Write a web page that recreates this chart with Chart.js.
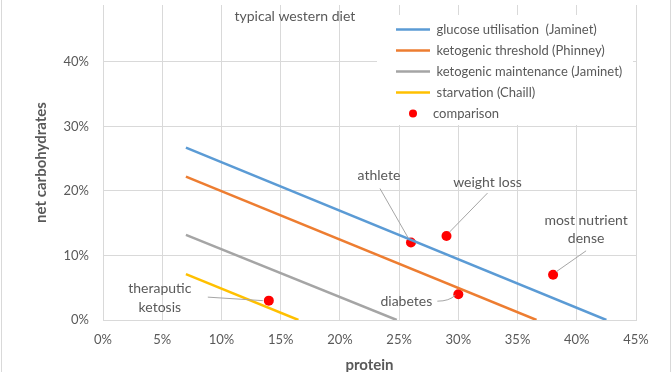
<!DOCTYPE html>
<html>
<head>
<meta charset="utf-8">
<script src="https://cdn.jsdelivr.net/npm/chart.js@4/dist/chart.umd.min.js"></script>
<style>
html,body{margin:0;padding:0;background:#fff;}
#wrap{width:672px;height:372px;position:relative;}
</style>
</head>
<body>
<div id="wrap"><canvas id="c" width="672" height="372"></canvas></div>
<script>
// ---- data ----
const lineNames = ['glucose utilisation  (Jaminet)', 'ketogenic threshold (Phinney)', 'ketogenic maintenance (Jaminet)', 'starvation (Chaill)'];
const lineStartProtein = [0.07, 0.07, 0.07, 0.07];
const lineStartCarbs   = [0.267, 0.222, 0.132, 0.071];
const lineEndProtein   = [0.425, 0.366, 0.248, 0.165];
const lineEndCarbs     = [0, 0, 0, 0];
const pointSeriesName = 'comparison';
const pointLabels  = ['theraputic\nketosis', 'athlete', 'weight loss', 'most nutrient\ndense', 'diabetes'];
const pointProtein = [0.14, 0.26, 0.29, 0.38, 0.30];
const pointCarbs   = [0.03, 0.12, 0.13, 0.07, 0.04];
const noteText = 'typical western diet';
const noteProtein = 0.162;
const noteCarbs = 0.47;
const xTicks = [0, 0.05, 0.10, 0.15, 0.20, 0.25, 0.30, 0.35, 0.40, 0.45];
const yTicks = [0, 0.10, 0.20, 0.30, 0.40];
const xTitle = 'protein';
const yTitle = 'net carbohydrates';

// ---- styles ----
const lineColors = ['#5B9BD5', '#ED7D31', '#A5A5A5', '#FFC000'];
const textColor = '#595959';
const gridColor = '#d9d9d9';
const FONT = 'Lato, "Liberation Sans", sans-serif';

const datasets = lineNames.map((n, i) => ({
  label: n,
  data: [{x: lineStartProtein[i], y: lineStartCarbs[i]}, {x: lineEndProtein[i], y: lineEndCarbs[i]}],
  showLine: true,
  borderColor: lineColors[i],
  backgroundColor: lineColors[i],
  borderWidth: 2.5,
  pointRadius: 0,
  pointHoverRadius: 0,
  fill: false
}));
datasets.push({
  label: pointSeriesName,
  data: pointProtein.map((p, i) => ({x: p, y: pointCarbs[i]})),
  showLine: false,
  pointRadius: 5,
  pointBackgroundColor: '#FF0000',
  pointBorderColor: '#FF0000',
  pointBorderWidth: 0,
  backgroundColor: '#FF0000',
  borderColor: '#FF0000'
});

// label placement (pixel offsets from each point): text centre, leader start, leader end
const labelLayout = [
  {tx: -109, ty: [-12, 7], l0: [-61, -3.5], l1: [-6, 0]},
  {tx: -32, ty: [-67], l0: [-31, -54], l1: [-3, -5]},
  {tx: 41, ty: [-54], l0: [41, -43], l1: [3, -4]},
  {tx: 33, ty: [-54, -36], l0: [33, -24], l1: [3, -3]},
  {tx: -52, ty: [7], l0: [-21, 7], l1: [-3, 1], curve: true}
];

const decor = {
  id: 'decor',
  beforeDraw(chart) {
    const ctx = chart.ctx;
    ctx.save();
    ctx.fillStyle = '#fff';
    ctx.fillRect(0, 0, chart.width, chart.height);
    ctx.strokeStyle = gridColor;
    ctx.lineWidth = 1;
    ctx.beginPath();
    ctx.moveTo(1.5, 0); ctx.lineTo(1.5, chart.height);
    ctx.moveTo(670.5, 0); ctx.lineTo(670.5, chart.height);
    ctx.stroke();
    ctx.restore();
  },
  afterDatasetsDraw(chart) {
    const ctx = chart.ctx;
    const xs = chart.scales.x, ys = chart.scales.y;
    ctx.save();
    // legend box
    ctx.fillStyle = '#fff';
    ctx.fillRect(377, 15, 256, 110);
    ctx.font = '13px ' + FONT;
    ctx.fillStyle = textColor;
    ctx.textBaseline = 'middle';
    ctx.textAlign = 'left';
    const ds = chart.data.datasets;
    ds.forEach((d, i) => {
      const y = 29.5 + i * 21;
      if (d.showLine) {
        ctx.strokeStyle = d.borderColor;
        ctx.lineWidth = 2.5;
        ctx.beginPath();
        ctx.moveTo(396, y); ctx.lineTo(430, y);
        ctx.stroke();
        ctx.fillStyle = textColor;
        ctx.fillText(d.label, 436.5, y);
      } else {
        ctx.fillStyle = d.pointBackgroundColor;
        ctx.beginPath();
        ctx.arc(413, y, 4, 0, Math.PI * 2);
        ctx.fill();
        ctx.fillStyle = textColor;
        ctx.fillText(d.label, 433, y);
      }
    });
    // data labels with leader lines
    const meta = chart.getDatasetMeta(ds.length - 1);
    ctx.font = '14px ' + FONT;
    ctx.strokeStyle = '#a6a6a6';
    ctx.lineWidth = 1;
    ctx.textAlign = 'center';
    pointLabels.forEach((lab, i) => {
      const el = meta.data[i];
      const px = el.x, py = el.y;
      const L = labelLayout[i];
      ctx.beginPath();
      ctx.moveTo(px + L.l0[0], py + L.l0[1]);
      if (L.curve) {
        ctx.quadraticCurveTo(px + L.l1[0] - 6, py + L.l0[1], px + L.l1[0], py + L.l1[1]);
      } else {
        ctx.lineTo(px + L.l1[0], py + L.l1[1]);
      }
      ctx.stroke();
      ctx.fillStyle = textColor;
      lab.split('\n').forEach((t, k) => ctx.fillText(t, px + L.tx, py + L.ty[k]));
    });
    ctx.fillText(noteText, xs.getPixelForValue(noteProtein), ys.getPixelForValue(noteCarbs));
    ctx.restore();
  }
};

new Chart(document.getElementById('c'), {
  type: 'scatter',
  data: {datasets},
  options: {
    responsive: false,
    animation: false,
    events: [],
    layout: {padding: {left: 0, top: 0, right: 36, bottom: 0}},
    plugins: {legend: {display: false}, tooltip: {enabled: false}},
    scales: {
      x: {
        type: 'linear', min: 0, max: 0.45,
        afterBuildTicks(s) { s.ticks = xTicks.map(v => ({value: v})); },
        afterFit(s) { s.height = 52; s.paddingLeft = 0; s.paddingRight = 0; },
        ticks: {
          color: textColor, font: {family: FONT, size: 13}, padding: 12,
          callback: v => Math.round(v * 100) + '%'
        },
        grid: {color: gridColor, drawTicks: false},
        border: {color: gridColor},
        title: {display: true, text: xTitle, color: textColor, font: {family: FONT, size: 15, weight: 'bold'}, padding: {top: 0, bottom: -2}}
      },
      y: {
        type: 'linear', min: 0, max: 0.488,
        afterBuildTicks(s) { s.ticks = yTicks.map(v => ({value: v})); },
        afterFit(s) { s.width = 103; s.paddingTop = 0; s.paddingBottom = 0; },
        ticks: {
          color: textColor, font: {family: FONT, size: 13}, padding: 14,
          callback: v => Math.round(v * 100) + '%'
        },
        grid: {color: gridColor, drawTicks: false},
        border: {color: gridColor},
        title: {display: true, text: yTitle, color: textColor, font: {family: FONT, size: 15, weight: 'bold'}, padding: {top: 32, bottom: 0}}
      }
    }
  },
  plugins: [decor]
});
</script>
</body>
</html>
